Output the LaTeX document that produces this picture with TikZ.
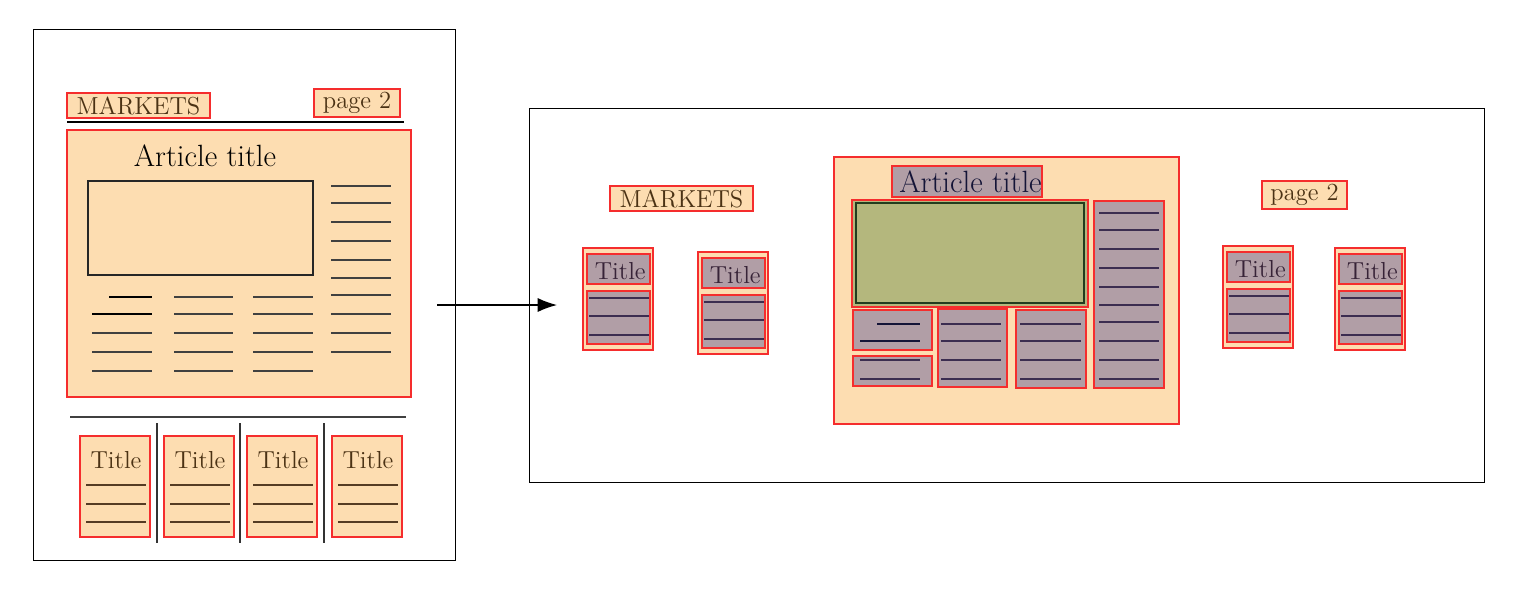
\documentclass[tikz,border=0pt]{standalone}
\usetikzlibrary{fit,arrows.meta}
\definecolor{ofill}{RGB}{253,221,177}
\definecolor{pfill}{RGB}{177,158,166}
\definecolor{gfill}{RGB}{180,183,125}
\definecolor{gline}{RGB}{35,60,30}
\definecolor{redb}{RGB}{245,45,45}
\definecolor{browntxt}{RGB}{75,50,20}
\definecolor{brownline}{RGB}{85,60,35}
\definecolor{ptxt}{RGB}{55,35,55}
\definecolor{pline}{RGB}{60,45,80}
\definecolor{navytxt}{RGB}{20,20,55}
\begin{document}
\begin{tikzpicture}[x=0.02cm,y=-0.02cm,
  box/.style={draw=redb, line width=0.6pt, inner sep=0pt},
  obox/.style={box, fill=ofill},
  pbox/.style={box, fill=pfill},
  gbox/.style={box, fill=gfill},
  frame/.style={draw=black, line width=0.5pt, inner sep=0pt},
  txt/.style={font=\fontsize{14}{17}\selectfont, text=browntxt, inner sep=0pt},
  ptext/.style={font=\fontsize{14}{17}\selectfont, text=ptxt, inner sep=0pt},
  bigtxt/.style={font=\fontsize{17.5}{21}\selectfont, inner sep=0pt},
  tl/.style={line width=0.7pt, draw=black!75},
  thl/.style={line width=1.1pt, draw=black},
  bl/.style={line width=0.7pt, draw=brownline},
  pl/.style={line width=0.7pt, draw=pline},
  pthl/.style={line width=1.1pt, draw=navytxt}
]
\useasboundingbox (0,0) rectangle (1523,593);

% ---------------- left page ----------------
\node[frame, fit={(33,29) (455,560)}] (page) {};
\node[obox, fit={(67,93) (210,118)}] (mkL) {};
\node[txt] (mkLt) at (mkL.center) {MARKETS};
\node[obox, fit={(314,89) (400,117)}] (pgL) {};
\node[txt] (pgLt) at (pgL.center) {page 2};
\draw[line width=0.8pt] (67,122) -- (404,122);
\node[obox, fit={(67,130) (411,397)}] (artL) {};
\node[bigtxt] (artLt) at (205,156) {Article title};
\node[frame, draw=black!85, line width=0.7pt, fit={(88,181) (313,275)}] (imgL) {};
\foreach \y in {186,203,222,241,260,278,295,314,333,352}
  \draw[tl] (331,\y) -- (391,\y);
\draw[thl] (109,297) -- (152,297);
\draw[thl] (92,314) -- (152,314);
\foreach \y in {333,352,371} \draw[tl] (92,\y) -- (152,\y);
\foreach \y in {297,314,333,352,371} {
  \draw[tl] (174,\y) -- (233,\y);
  \draw[tl] (253,\y) -- (313,\y);
}
\draw[line width=0.7pt, draw=black!75] (70,417) -- (406,417);
\foreach \x/\n in {80/1,164/2,247/3,332/4} {
  \node[obox, fit={(\x,436) (\x+70,537)}] (bot\n) {};
  \node[txt] (bott\n) at (\x+36,460) {Title};
  \foreach \y in {485,504,522} \draw[bl] (\x+6,\y) -- (\x+66,\y);
}
\foreach \x in {157,240,324} \draw[line width=0.7pt, draw=black!80] (\x,423) -- (\x,543);

% ---------------- arrow ----------------
\coordinate (a1) at (437,305);
\coordinate (a2) at (557,305);
\draw[line width=0.7pt, -{Latex[length=11pt, width=8pt]}] (a1) -- (a2);

% ---------------- right frame ----------------
\node[frame, fit={(529,108) (1484,482)}] (frameR) {};
\node[obox, fit={(610,186) (753,211)}] (mkR) {};
\node[txt] (mkRt) at (mkR.center) {MARKETS};
\node[obox, fit={(1262,181) (1347,209)}] (pgR) {};
\node[txt] (pgRt) at (pgR.center) {page 2};

\foreach \x/\y/\n in {583/248/1, 698/252/2, 1223/246/3, 1335/248/4} {
  \node[obox, fit={(\x,\y) (\x+70,\y+102)}] (card\n) {};
  \node[pbox, fit={(\x+4,\y+6) (\x+67,\y+36)}] (cardt\n) {};
  \node[ptext] (cardtt\n) at ([xshift=1pt,yshift=-1pt]cardt\n.center) {Title};
  \node[pbox, fit={(\x+4,\y+43) (\x+67,\y+96)}] (cardl\n) {};
  \foreach \d in {50,68,87} \draw[pl] (\x+6,\y+\d) -- (\x+66,\y+\d);
}

% central article
\node[obox, fit={(834,157) (1179,424)}] (artR) {};
\node[pbox, fit={(892,166) (1042,197)}] (artRb) {};
\node[bigtxt, text=navytxt] (artRt) at ([xshift=2pt]artRb.center) {Article title};
\node[gbox, fit={(852,200) (1088,307)}] (imgRo) {};
\node[draw=gline, line width=0.9pt, inner sep=0pt, fit={(856,203) (1084,303)}] (imgR) {};
\node[pbox, fit={(1094,201) (1164,388)}] (colR) {};
\foreach \y in {213,230,249,268,287,305,322,341,360,379}
  \draw[pl] (1099,\y) -- (1159,\y);
\node[pbox, fit={(853,310) (932,350)}] (bA) {};
\draw[pthl] (877,324) -- (920,324);
\draw[pthl] (860,341) -- (920,341);
\node[pbox, fit={(853,356) (932,386)}] (bB) {};
\foreach \y in {360,379} \draw[pl] (860,\y) -- (920,\y);
\node[pbox, fit={(938,309) (1007,387)}] (bC) {};
\node[pbox, fit={(1016,310) (1086,388)}] (bD) {};
\foreach \y in {324,341,360,379} {
  \draw[pl] (941,\y) -- (1001,\y);
  \draw[pl] (1020,\y) -- (1081,\y);
}
\end{tikzpicture}
\end{document}
